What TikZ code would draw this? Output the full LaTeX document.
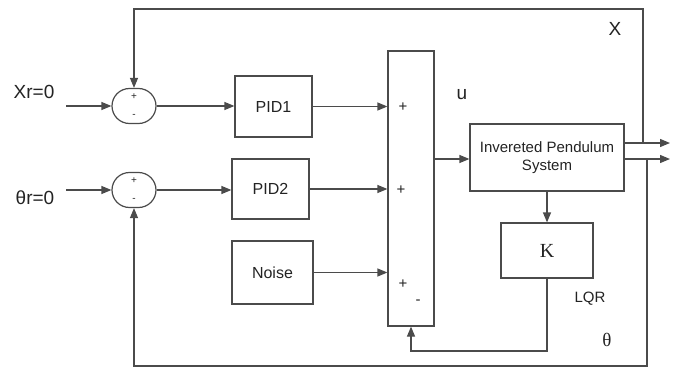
\documentclass[tikz,border=0pt]{standalone}
\usepackage{fontspec}
\setmainfont{Liberation Sans}
\newfontfamily\serifK{Liberation Serif}
\usetikzlibrary{arrows.meta,shapes.misc}
\definecolor{lc}{RGB}{75,75,75}
\definecolor{tc}{RGB}{35,35,35}
\begin{document}
\begin{tikzpicture}[x=1pt,y=-1pt,
  ln/.style={draw=lc,line width=1.2pt},
  arr/.style={ln,-{Triangle[length=10pt,width=8pt]}},
  blk/.style={draw=lc,line width=1.2pt,rectangle,inner sep=0pt,text=tc,font=\fontsize{16}{18}\selectfont},
  sumj/.style={draw=lc,line width=1.2pt,rounded rectangle,minimum width=44pt,minimum height=35pt,inner sep=0pt},
  lbl/.style={font=\fontsize{19}{21}\selectfont,inner sep=0pt,text=tc},
  sgn/.style={font=\fontsize{10}{10}\selectfont,inner sep=0pt,text=tc},
  bsgn/.style={font=\fontsize{15}{15}\selectfont,inner sep=0pt,text=tc}]
\useasboundingbox (0,0) rectangle (683,369);
% summing junctions
\node[sumj] (s1) at (134,106) {};
\node[sgn] (s1p) at (134,97) {+};
\node[sgn] (s1m) at (134,116) {-};
\node[sumj] (s2) at (134,190) {};
\node[sgn] (s2p) at (134,181) {+};
\node[sgn] (s2m) at (134,200) {-};
% blocks
\node[blk,minimum width=77pt,minimum height=61pt] (pid1) at (273.5,106.5) {PID1};
\node[blk,minimum width=77pt,minimum height=60pt] (pid2) at (270.5,189) {PID2};
\node[blk,minimum width=81pt,minimum height=63pt] (noise) at (272.5,272.5) {Noise};
\node[blk,minimum width=46pt,minimum height=275pt] (big) at (411,188.5) {};
\node[bsgn] (bp1) at (403,107) {+};
\node[bsgn] (bp2) at (401,190) {+};
\node[bsgn] (bp3) at (403,284) {+};
\node[bsgn] (bm) at (418,302) {-};
\node[blk,minimum width=154pt,minimum height=67pt,align=center,font=\fontsize{15}{18}\selectfont] (ips) at (547,157.5) {Invereted Pendulum\\System};
\node[blk,minimum width=92pt,minimum height=55pt,font=\serifK\fontsize{20}{20}\selectfont] (k) at (547,250.5) {K};
% labels
\node[lbl] (lx) at (34,92) {Xr=0};
\node[lbl] (lt) at (35,198) {θr=0};
\node[lbl] (lX) at (615,29) {X};
\node[lbl] (lu) at (462,95) {u};
\node[lbl,font=\fontsize{15}{16}\selectfont] (llqr) at (590,299) {LQR};
\node[lbl,font=\serifK\fontsize{19}{20}\selectfont] (lth) at (607,340) {θ};
% coordinates
\coordinate (xin) at (66,106);
\coordinate (tin) at (66,190);
\coordinate (uy) at (0,159);
\coordinate (o1) at (670,143);
\coordinate (o2) at (670,159);
\coordinate (xf) at (643,143);
\coordinate (xt) at (643,9);
\coordinate (tf) at (647,159);
\coordinate (tb) at (647,366);
\coordinate (kb) at (547,351);
% connectors
\draw[arr] (xin) -- (s1.west);
\draw[arr] (tin) -- (s2.west);
\draw[arr] (s1.east) -- (s1.east -| pid1.west);
\draw[arr] (s2.east) -- (s2.east -| pid2.west);
\draw[arr] (pid1.east) -- (pid1.east -| big.west);
\draw[arr] (pid2.east) -- (pid2.east -| big.west);
\draw[arr] (noise.east) -- (noise.east -| big.west);
\draw[arr] (big.east |- uy) -- (ips.west |- uy);
\draw[arr] (ips.east |- o1) -- (o1);
\draw[arr] (ips.east |- o2) -- (o2);
\draw[arr] (xf) -- (xt) -| (s1.north);
\draw[arr] (tf) -- (tb) -| (s2.south);
\draw[arr] (ips.south) -- (k.north);
\draw[arr] (k.south) -- (kb) -| (big.south);
\end{tikzpicture}
\end{document}
